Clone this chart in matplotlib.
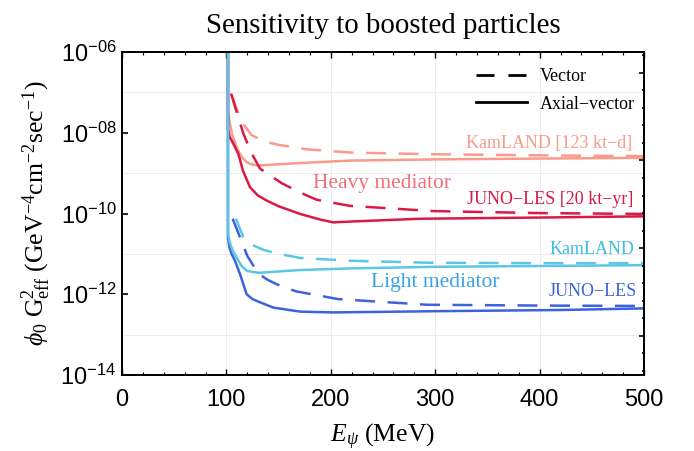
import numpy as np
import matplotlib
matplotlib.use('Agg')
import matplotlib.pyplot as plt
from matplotlib.lines import Line2D
from matplotlib.ticker import FixedLocator, FuncFormatter, NullFormatter

plt.rcParams['mathtext.fontset'] = 'custom'
plt.rcParams['mathtext.rm'] = 'Liberation Serif'
plt.rcParams['mathtext.it'] = 'Liberation Serif:italic'
plt.rcParams['mathtext.sf'] = 'Liberation Sans'
plt.rcParams['font.family'] = ['Liberation Serif', 'DejaVu Serif']

# values: energy (MeV) and log10 of the bound
kam_heavy_ax_E = [101.5, 101.5, 102.8, 105.5, 109.8, 114, 119.4, 125, 130.6, 150, 170.5, 218.4, 300, 400, 500]
kam_heavy_ax_log = [-6, -7.4, -7.7, -8.05, -8.35, -8.58, -8.73, -8.79, -8.81, -8.78, -8.75, -8.69, -8.66, -8.64, -8.62]
kam_heavy_vec_E = [105, 109, 113, 118, 124.2, 137, 150, 177, 218.4, 290, 400, 500]
kam_heavy_vec_log = [-7.05, -7.35, -7.61, -7.85, -8.06, -8.22, -8.3, -8.41, -8.49, -8.53, -8.56, -8.58]

juno_heavy_ax_E = [101.5, 101.5, 103, 106.6, 111.4, 116, 122.6, 130, 138.6, 150, 170.5, 190, 202.4, 218.4, 285, 400, 500]
juno_heavy_ax_log = [-6, -7.9, -8.1, -8.27, -8.52, -8.95, -9.35, -9.55, -9.68, -9.82, -10.01, -10.15, -10.22, -10.2, -10.13, -10.1, -10.07]
juno_heavy_vec_E = [104.4, 109.8, 116.2, 124, 132.2, 153, 170.5, 186.5, 218, 298, 400, 500]
juno_heavy_vec_log = [-7.03, -7.48, -8.02, -8.5, -8.89, -9.25, -9.48, -9.66, -9.81, -9.94, -9.99, -10.01]

kam_light_ax_E = [101.5, 101.5, 103, 106, 109.8, 114, 119.4, 130.6, 170.5, 218.4, 300, 400, 500]
kam_light_ax_log = [-6, -10.5, -10.7, -10.92, -11.09, -11.28, -11.42, -11.47, -11.4, -11.36, -11.32, -11.3, -11.28]
kam_light_vec_E = [109.2, 116.2, 125, 135.4, 150, 170.5, 218.4, 295, 400, 500]
kam_light_vec_log = [-10.13, -10.59, -10.78, -10.9, -11.0, -11.1, -11.17, -11.22, -11.23, -11.23]

juno_light_ax_E = [101.5, 101.5, 103, 105, 108.2, 113, 119.4, 125, 132.2, 144.9, 170.5, 202.4, 300, 420, 500]
juno_light_ax_log = [-6, -10.6, -10.85, -11.0, -11.17, -11.5, -12.0, -12.12, -12.2, -12.33, -12.43, -12.45, -12.42, -12.39, -12.35]
juno_light_vec_E = [106, 113, 120, 130.6, 140, 151.3, 167, 207, 292, 400, 500]
juno_light_vec_log = [-10.13, -10.59, -11.05, -11.49, -11.65, -11.79, -11.93, -12.12, -12.26, -12.28, -12.29]

x_ticks = [0, 100, 200, 300, 400, 500]
y_label_exps = [-14, -12, -10, -8, -6]

c_kam_heavy = '#fa9a8a'
c_juno_heavy = '#da1a44'
c_kam_light = '#5cc6e4'
c_juno_light = '#3c62e0'

fig = plt.figure(figsize=(6.94, 4.51), dpi=100)
ax = fig.add_axes([0.1758, 0.1685, 0.7522, 0.7162])
ax.set_yscale('log')

lw = 1.8
dash = (8, 5)
curves = [
    (kam_heavy_vec_E, kam_heavy_vec_log, c_kam_heavy, True),
    (kam_heavy_ax_E, kam_heavy_ax_log, c_kam_heavy, False),
    (juno_heavy_vec_E, juno_heavy_vec_log, c_juno_heavy, True),
    (juno_heavy_ax_E, juno_heavy_ax_log, c_juno_heavy, False),
    (juno_light_vec_E, juno_light_vec_log, c_juno_light, True),
    (juno_light_ax_E, juno_light_ax_log, c_juno_light, False),
    (kam_light_vec_E, kam_light_vec_log, c_kam_light, True),
    (kam_light_ax_E, kam_light_ax_log, c_kam_light, False),
]
for E, lg, col, dashed in curves:
    line, = ax.plot(E, 10.0 ** np.array(lg), color=col, lw=lw, solid_capstyle='butt')
    if dashed:
        line.set_dashes(dash)

ax.set_xlim(0, 500)
ax.set_ylim(1e-14, 1e-6)

# ticks
ax.xaxis.set_major_locator(FixedLocator(x_ticks))
ax.xaxis.set_minor_locator(FixedLocator(np.arange(0, 501, 20)))
ax.yaxis.set_major_locator(FixedLocator([10.0 ** e for e in y_label_exps]))
ax.yaxis.set_minor_locator(FixedLocator([10.0 ** e for e in [-13, -11, -9, -7]]))
ax.yaxis.set_minor_formatter(NullFormatter())
ax.yaxis.set_major_formatter(FuncFormatter(
    lambda v, p: r'$\mathsf{10^{-%02d}}$' % round(-np.log10(v))))
ax.tick_params(axis='x', which='major', direction='in', length=4, width=1, top=True, pad=10)
ax.tick_params(axis='x', which='minor', direction='in', length=2.5, width=0.8, top=True)
ax.tick_params(axis='y', which='major', direction='in', length=4, width=1.2, right=False, pad=4)
ax.tick_params(axis='y', which='minor', length=0)
ax.tick_params(labelsize=17)
for t in ax.get_xticklabels():
    t.set_fontfamily('Liberation Sans')

ax.grid(axis='x', which='major', color='#ececec', lw=0.7)
ax.grid(axis='y', which='minor', color='#ececec', lw=0.7)
ax.set_axisbelow(True)

# right side ticks at powers of e
axr = ax.twinx()
axr.set_yscale('log')
axr.set_ylim(1e-14, 1e-6)
n_e = np.arange(14, 33)
axr.yaxis.set_major_locator(FixedLocator(np.exp(-n_e[n_e % 5 == 0].astype(float))))
axr.yaxis.set_minor_locator(FixedLocator(np.exp(-n_e[n_e % 5 != 0].astype(float))))
axr.yaxis.set_major_formatter(NullFormatter())
axr.yaxis.set_minor_formatter(NullFormatter())
axr.tick_params(axis='y', which='major', direction='in', length=3.6, width=1.2)
axr.tick_params(axis='y', which='minor', direction='in', length=1.8, width=1.2)

for a in (ax, axr):
    for s in a.spines.values():
        s.set_linewidth(1.3)

ax.set_title('Sensitivity to boosted particles', fontsize=20.8, pad=14)
ax.set_xlabel(r'$E_\psi$ (MeV)', fontsize=18.5, labelpad=8)
ax.set_ylabel(r'$\phi_0\ \mathrm{G^2_{eff}}\ (\mathrm{GeV^{-4}cm^{-2}sec^{-1}})$', fontsize=18.5, labelpad=5)

# curve labels
ax.text(0.977, 0.718, 'KamLAND [123 kt\u2212d]', transform=ax.transAxes, ha='right', va='center', color=c_kam_heavy, fontsize=13)
ax.text(0.979, 0.542, 'JUNO\u2212LES [20 kt\u2212yr]', transform=ax.transAxes, ha='right', va='center', color=c_juno_heavy, fontsize=13)
ax.text(0.499, 0.594, 'Heavy mediator', transform=ax.transAxes, ha='center', va='center', color='#f0707c', fontsize=15.5)
ax.text(0.981, 0.390, 'KamLAND', transform=ax.transAxes, ha='right', va='center', color='#3cbde2', fontsize=13)
ax.text(0.601, 0.285, 'Light mediator', transform=ax.transAxes, ha='center', va='center', color='#3aa3e6', fontsize=15.5)
ax.text(0.987, 0.260, 'JUNO\u2212LES', transform=ax.transAxes, ha='right', va='center', color=c_juno_light, fontsize=13)

handles = [Line2D([], [], color='k', lw=2.0, dashes=(6.5, 5)),
           Line2D([], [], color='k', lw=2.0)]
ax.legend(handles, ['Vector', 'Axial\u2212vector'], loc='upper right', bbox_to_anchor=(1.006, 0.99),
          frameon=False, fontsize=13, handlelength=2.8, handletextpad=0.7, labelspacing=0.6, borderpad=0.2)

fig.savefig('out.png', dpi=100)
